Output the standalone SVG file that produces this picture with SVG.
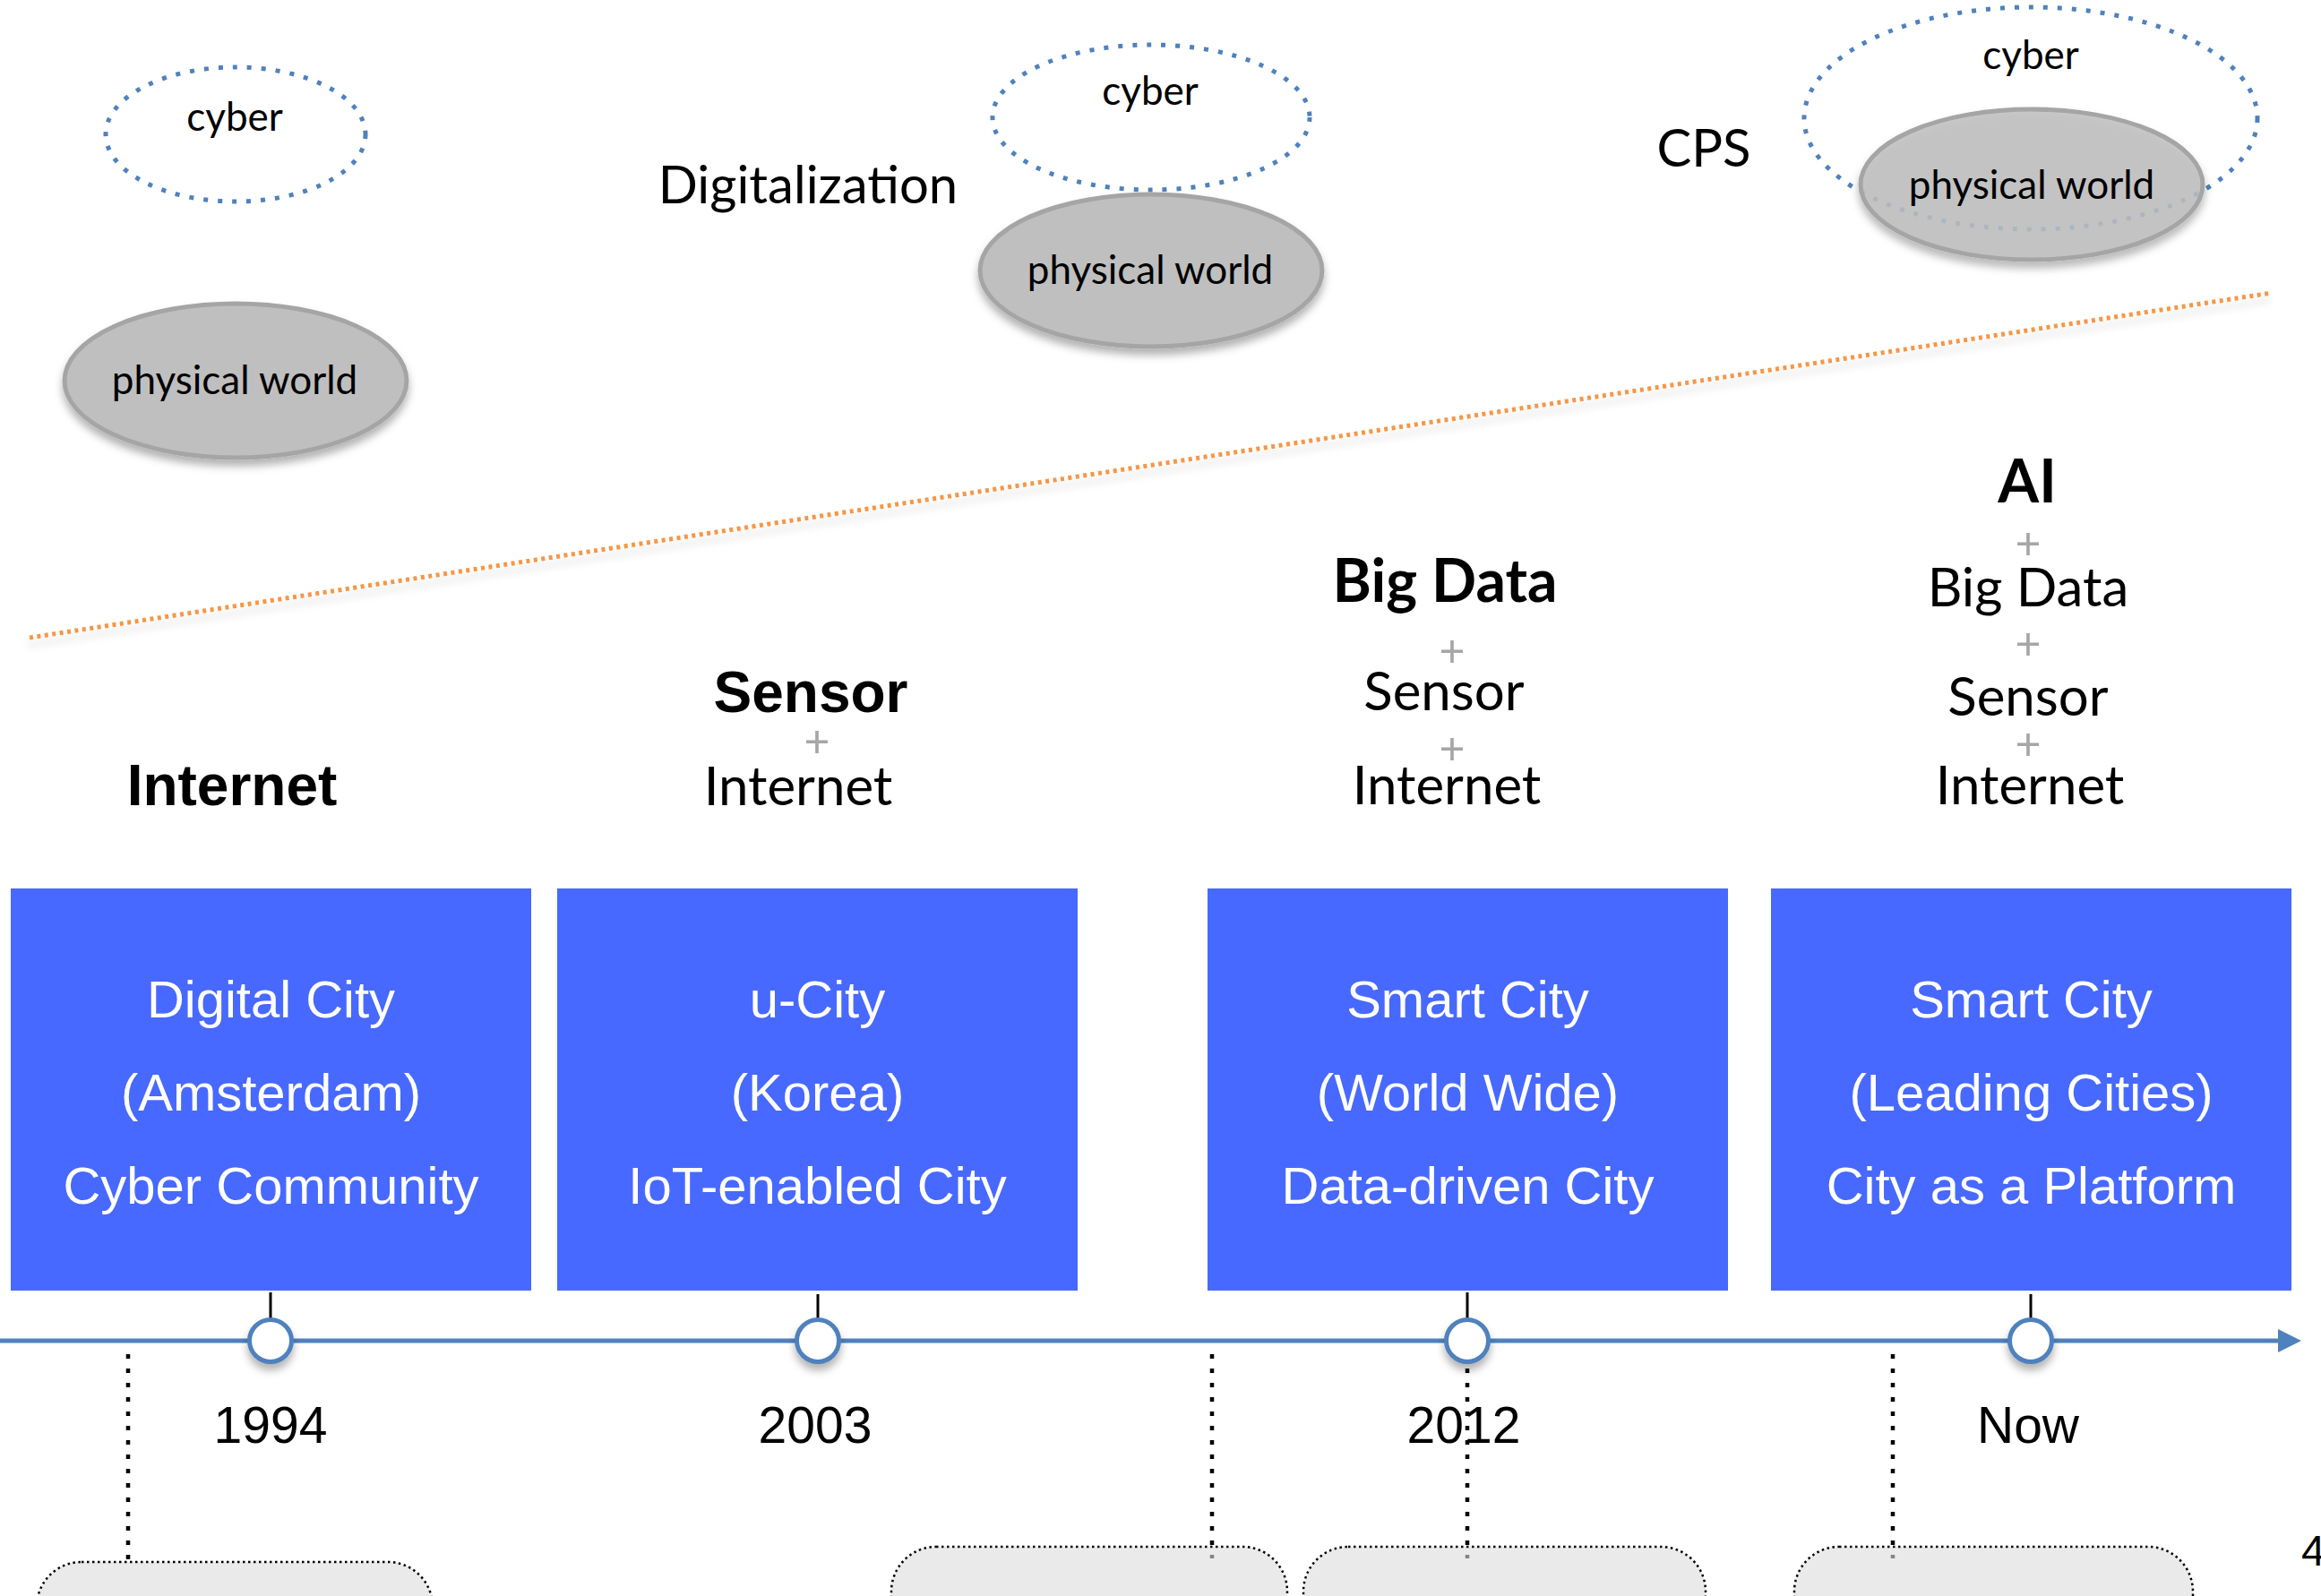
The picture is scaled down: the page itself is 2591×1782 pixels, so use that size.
<svg xmlns="http://www.w3.org/2000/svg" width="2591" height="1782" viewBox="0 0 2591 1782">
<defs>
<style>
.gill{font-family:"Lato","Open Sans",sans-serif;fill:#000;text-anchor:middle}
.helv{font-family:"Liberation Sans",Arial,sans-serif;text-anchor:middle}
.plus{font-family:"Lato","Open Sans",sans-serif;fill:#a6a6a6;text-anchor:middle;font-size:50px}
.cyber{fill:none;stroke:#4f81bd;stroke-width:5;stroke-dasharray:5 11}
.phys{fill:#bfbfbf;stroke:#a5a5a5;stroke-width:5}
.box{fill:#4769ff}
.boxt{font-family:"Liberation Sans",Arial,sans-serif;text-anchor:middle;fill:#fff;font-size:58px}
.date{font-family:"Liberation Sans",Arial,sans-serif;text-anchor:middle;fill:#000;font-size:57px}
.vdot{stroke:#000;stroke-width:4.5;stroke-dasharray:5 11;fill:none}
.tick{stroke:#000;stroke-width:3}
.tl{fill:#fff;stroke:#4f81bd;stroke-width:5}
.note{fill:#dcdcdc;fill-opacity:0.6;stroke:#000;stroke-width:2.5;stroke-dasharray:2.5 3.5}
</style>
<filter id="sh" x="-20%" y="-20%" width="140%" height="160%">
<feDropShadow dx="0" dy="7" stdDeviation="5" flood-color="#000" flood-opacity="0.3"/>
</filter>
<filter id="shl" x="-5%" y="-50%" width="110%" height="200%">
<feDropShadow dx="0" dy="8" stdDeviation="4" flood-color="#000" flood-opacity="0.18"/>
</filter>
</defs>
<rect width="2591" height="1782" fill="#fff"/>

<g id="connectors">
<line id="era-divider" x1="33" y1="712" x2="2536" y2="327" stroke="#f79646" stroke-width="5" stroke-dasharray="4 4.5" filter="url(#shl)"/>
<line id="timeline" x1="0" y1="1497" x2="2546" y2="1497" stroke="#4f81bd" stroke-width="5"/>
<polygon points="2569,1497 2543,1484 2543,1510" fill="#4f81bd"/>
<line class="tick" x1="302" y1="1443" x2="302" y2="1474"/>
<line class="tick" x1="913" y1="1445" x2="913" y2="1476"/>
<line class="tick" x1="1638" y1="1443" x2="1638" y2="1474"/>
<line class="tick" x1="2267" y1="1445" x2="2267" y2="1476"/>
<line class="vdot" x1="143" y1="1512" x2="143" y2="1750"/>
<line class="vdot" x1="1353" y1="1512" x2="1353" y2="1740"/>
<line class="vdot" x1="1638" y1="1512" x2="1638" y2="1740"/>
<line class="vdot" x1="2113" y1="1512" x2="2113" y2="1740"/>
</g>

<g id="stage-cyber-physical-separate">
<ellipse class="cyber" cx="263" cy="150" rx="145" ry="75"/>
<text class="gill" x="262" y="146" font-size="44">cyber</text>
<ellipse class="phys" cx="263" cy="425" rx="191" ry="86" filter="url(#sh)"/>
<text class="gill" x="262" y="440" font-size="44">physical world</text>
</g>

<g id="stage-digitalization">
<text class="gill" x="902" y="227" font-size="58">Digitalization</text>
<ellipse class="cyber" cx="1285" cy="131" rx="177" ry="81"/>
<text class="gill" x="1284" y="117" font-size="44">cyber</text>
<ellipse class="phys" cx="1285" cy="302" rx="191" ry="85" filter="url(#sh)"/>
<text class="gill" x="1284" y="317" font-size="44">physical world</text>
</g>

<g id="stage-cps">
<text class="gill" x="1902" y="186" font-size="58">CPS</text>
<ellipse class="cyber" cx="2267" cy="132" rx="253" ry="124"/>
<text class="gill" x="2267" y="77" font-size="44">cyber</text>
<ellipse class="phys" cx="2268" cy="206" rx="191" ry="84" fill-opacity="0.85" filter="url(#sh)"/>
<text class="gill" x="2268" y="222" font-size="44" fill="#222">physical world</text>
</g>

<g id="tech-1994">
<text class="helv" x="259" y="899" font-size="64" font-weight="bold">Internet</text>
</g>

<g id="tech-2003">
<text class="helv" x="905" y="795" font-size="64" font-weight="bold">Sensor</text>
<text class="plus" x="912" y="845">+</text>
<text class="gill" x="891" y="899" font-size="60">Internet</text>
</g>

<g id="tech-2012">
<text class="gill" x="1613" y="672" font-size="66" font-weight="bold">Big Data</text>
<text class="plus" x="1621" y="744">+</text>
<text class="gill" x="1612" y="793" font-size="60">Sensor</text>
<text class="plus" x="1621" y="853">+</text>
<text class="gill" x="1615" y="898" font-size="60">Internet</text>
</g>

<g id="tech-now">
<text class="gill" x="2263" y="561" font-size="66" font-weight="bold">AI</text>
<text class="plus" x="2264" y="624">+</text>
<text class="gill" x="2264" y="677" font-size="60">Big Data</text>
<text class="plus" x="2264" y="736">+</text>
<text class="gill" x="2264" y="799" font-size="60">Sensor</text>
<text class="plus" x="2264" y="848">+</text>
<text class="gill" x="2266" y="898" font-size="60">Internet</text>
</g>

<g id="city-digital">
<rect class="box" x="12" y="992" width="581" height="449"/>
<text class="boxt" x="302.5" y="1136">Digital City</text>
<text class="boxt" x="302.5" y="1240">(Amsterdam)</text>
<text class="boxt" x="302.5" y="1344">Cyber Community</text>
</g>

<g id="city-u">
<rect class="box" x="622" y="992" width="581" height="449"/>
<text class="boxt" x="912.5" y="1136">u-City</text>
<text class="boxt" x="912.5" y="1240">(Korea)</text>
<text class="boxt" x="912.5" y="1344">IoT-enabled City</text>
</g>

<g id="city-smart-ww">
<rect class="box" x="1348" y="992" width="581" height="449"/>
<text class="boxt" x="1638.5" y="1136">Smart City</text>
<text class="boxt" x="1638.5" y="1240">(World Wide)</text>
<text class="boxt" x="1638.5" y="1344">Data-driven City</text>
</g>

<g id="city-smart-leading">
<rect class="box" x="1977" y="992" width="581" height="449"/>
<text class="boxt" x="2267.5" y="1136">Smart City</text>
<text class="boxt" x="2267.5" y="1240">(Leading Cities)</text>
<text class="boxt" x="2267.5" y="1344">City as a Platform</text>
</g>

<g id="milestone-1994">
<circle class="tl" cx="302" cy="1497" r="23.5" filter="url(#sh)"/>
<text class="date" x="302" y="1611">1994</text>
</g>
<g id="milestone-2003">
<circle class="tl" cx="913" cy="1497" r="23.5" filter="url(#sh)"/>
<text class="date" x="910" y="1611">2003</text>
</g>
<g id="milestone-2012">
<circle class="tl" cx="1638" cy="1497" r="23.5" filter="url(#sh)"/>
<text class="date" x="1634" y="1611">2012</text>
</g>
<g id="milestone-now">
<circle class="tl" cx="2267" cy="1497" r="23.5" filter="url(#sh)"/>
<text class="date" x="2264" y="1611">Now</text>
</g>

<g id="note-a"><rect class="note" x="41" y="1744" width="442" height="140" rx="50" ry="50"/></g>
<g id="note-b"><rect class="note" x="995" y="1727" width="442" height="160" rx="50" ry="50"/></g>
<g id="note-c"><rect class="note" x="1455" y="1727" width="449" height="160" rx="50" ry="50"/></g>
<g id="note-d"><rect class="note" x="2003" y="1727" width="445" height="160" rx="50" ry="50"/></g>

<text id="page-number" x="2569" y="1748" font-family="Liberation Sans, Arial, sans-serif" font-size="48" fill="#000">4</text>
</svg>
